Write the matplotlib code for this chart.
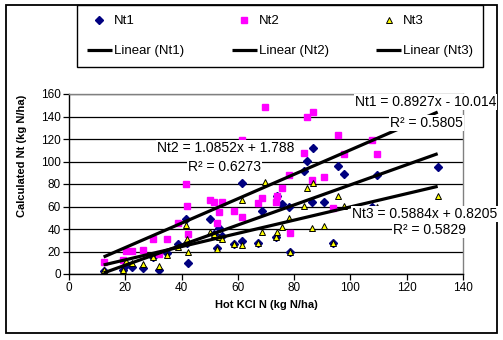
import numpy as np
import matplotlib.pyplot as plt
from matplotlib.patches import Rectangle

plt.rcParams['font.family'] = ['Liberation Sans', 'DejaVu Sans']

# Hot KCl N for each sample and the three calculated Nt values
hot_kcl = [12.3, 19.3, 20.3, 22.4, 26.3, 30.0, 32.1, 34.7, 38.7, 41.5,
           42.0, 42.4, 50.0, 51.4, 52.6, 53.2, 54.4, 58.5, 61.4, 61.6,
           67.2, 68.5, 69.8, 73.6, 73.8, 75.6, 78.3, 78.6, 83.6, 84.4,
           86.4, 86.8, 90.5, 93.8, 95.7, 97.6, 107.8, 109.6, 131.0]
nt1 = [2.5, 4, 8, 6, 5, 15, 4, 19, 27, 48.5,
       28, 10, 49, 35.6, 22.8, 41, 34, 27, 80.6, 29.6,
       28, 56, 112.6, 33, 69, 62.5, 60, 20, 92, 100.7,
       64.3, 111.7, 64.3, 28, 96, 89, 60, 88, 95.5]
nt2 = [11, 12.5, 20.5, 20.5, 21.3, 31, 17.5, 31, 45.6, 79.8,
       60.7, 36, 65.5, 64.3, 45.3, 55.5, 64.3, 56.3, 119, 51,
       62.8, 67.3, 148.5, 64.3, 69.3, 76.1, 88, 36.7, 108, 139.3,
       83.6, 144.3, 86.5, 58.8, 123.6, 107, 119, 106.4, 132.4]
nt3 = [4, 4, 12, 9.5, 8.5, 15, 7, 16.5, 24, 43.6,
       31.5, 19.3, 37, 36, 22.5, 32.5, 30.8, 26.7, 65.8, 25.5,
       27.3, 37, 81.6, 33, 37.6, 42, 49.5, 20, 60.5, 76.5,
       41.3, 81.2, 43, 28, 69, 60.4, 58.4, 59.3, 69]

# trendline coefficients (slope, intercept, r2)
fit1 = (0.8927, -10.014, 0.5805)
fit2 = (1.0852, 1.788, 0.6273)
fit3 = (0.5884, 0.8205, 0.5829)

fig = plt.figure(figsize=(5.03, 3.40), dpi=100)
fig.patch.set_facecolor('white')
ax = fig.add_axes([69/503, 66/340, 394/503, 180/340])

h1, = ax.plot(hot_kcl, nt1, linestyle='none', marker='D', ms=3.6,
              color='#000080', zorder=3)
h2, = ax.plot(hot_kcl, nt2, linestyle='none', marker='s', ms=4.4,
              color='#FF00FF', zorder=3)
h3, = ax.plot(hot_kcl, nt3, linestyle='none', marker='^', ms=5.0,
              markerfacecolor='#FFFF00', markeredgecolor='black',
              markeredgewidth=0.7, zorder=3)

xs = np.array([min(hot_kcl), max(hot_kcl)])
lines = []
for slope, icpt, _ in (fit1, fit2, fit3):
    l, = ax.plot(xs, slope * xs + icpt, color='black', lw=2.3,
                 solid_capstyle='butt', zorder=4)
    lines.append(l)

ax.set_xlim(0, 140)
ax.set_ylim(0, 160)
ax.set_xticks(range(0, 141, 20))
ax.set_yticks(range(0, 161, 20))
ax.yaxis.grid(True, color='black', lw=0.9)
ax.set_axisbelow(True)
ax.tick_params(labelsize=8.5, length=4, width=0.9, pad=2)
for s in ['left', 'bottom']:
    ax.spines[s].set_color('black')
    ax.spines[s].set_linewidth(1.0)
for s in ['top', 'right']:
    ax.spines[s].set_color('#808080')
    ax.spines[s].set_linewidth(1.0)
for s in ax.spines.values():
    s.set_zorder(5)

# equation labels
box = dict(facecolor='white', edgecolor='none', pad=0.5)
eq_kw = dict(fontsize=10, transform=fig.transFigure, va='center', ha='left',
             zorder=1, bbox=box)
fig.text(355/503, 1 - 102/340, 'Nt1 = %.4fx - %.3f' % (fit1[0], -fit1[1]), **eq_kw)
fig.text(390/503, 1 - 123/340, 'R² = %.4f' % fit1[2], **eq_kw)
fig.text(157/503, 1 - 148/340, 'Nt2 = %.4fx + %.3f' % (fit2[0], fit2[1]), **eq_kw)
fig.text(188/503, 1 - 167/340, 'R² = %.4f' % fit2[2], **eq_kw)
fig.text(352/503, 1 - 214/340, 'Nt3 = %.4fx + %.4f' % (fit3[0], fit3[1]), **eq_kw)
fig.text(393/503, 1 - 230/340, 'R² = %.4f' % fit3[2], **eq_kw)

fig.text(266/503, 1 - 305/340, 'Hot KCl N (kg N/ha)', fontsize=8,
         fontweight='bold', ha='center', va='center')
fig.text(22/503, 1 - 156/340, 'Calculated Nt (kg N/ha)', fontsize=8,
         fontweight='bold', ha='center', va='center', rotation=90)

leg = fig.legend([h1, lines[0], h2, lines[1], h3, lines[2]],
                 ['Nt1', 'Linear (Nt1)', 'Nt2', 'Linear (Nt2)', 'Nt3', 'Linear (Nt3)'],
                 loc='upper left', bbox_to_anchor=(77/503, 271/340, 406/503, 64/340),
                 mode='expand', ncol=3, fontsize=9.5, numpoints=1,
                 handlelength=1.9, handletextpad=0.15, borderpad=0.75,
                 labelspacing=1.35, fancybox=False, framealpha=1,
                 borderaxespad=0)
leg.get_frame().set_edgecolor('black')
leg.get_frame().set_linewidth(1.0)

# outer chart border
fig.add_artist(Rectangle((6/503, 7/340), 491/503, 328/340,
                         transform=fig.transFigure, fill=False,
                         ec='black', lw=1.3))

fig.savefig('out.png', dpi=100, facecolor='white')
